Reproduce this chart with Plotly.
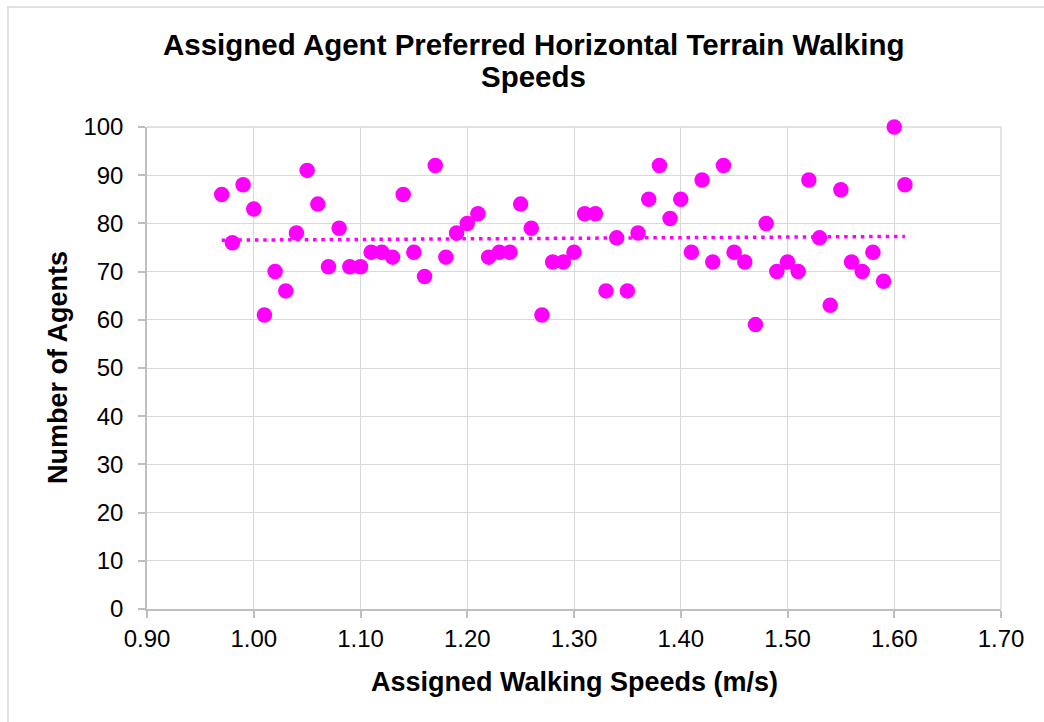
import numpy as np
import plotly.graph_objects as go

# Assigned preferred walking speeds (m/s) and how many agents received each
speeds = [0.97, 0.98, 0.99, 1.00, 1.01, 1.02, 1.03, 1.04, 1.05, 1.06,
          1.07, 1.08, 1.09, 1.10, 1.11, 1.12, 1.13, 1.14, 1.15, 1.16,
          1.17, 1.18, 1.19, 1.20, 1.21, 1.22, 1.23, 1.24, 1.25, 1.26,
          1.27, 1.28, 1.29, 1.30, 1.31, 1.32, 1.33, 1.34, 1.35, 1.36,
          1.37, 1.38, 1.39, 1.40, 1.41, 1.42, 1.43, 1.44, 1.45, 1.46,
          1.47, 1.48, 1.49, 1.50, 1.51, 1.52, 1.53, 1.54, 1.55, 1.56,
          1.57, 1.58, 1.59, 1.60, 1.61]
agents = [86, 76, 88, 83, 61, 70, 66, 78, 91, 84,
          71, 79, 71, 71, 74, 74, 73, 86, 74, 69,
          92, 73, 78, 80, 82, 73, 74, 74, 84, 79,
          61, 72, 72, 74, 82, 82, 66, 77, 66, 78,
          85, 92, 81, 85, 74, 89, 72, 92, 74, 72,
          59, 80, 70, 72, 70, 89, 77, 63, 87, 72,
          70, 74, 68, 100, 88]

x_ticks = [0.90, 1.00, 1.10, 1.20, 1.30, 1.40, 1.50, 1.60, 1.70]
y_ticks = [0, 10, 20, 30, 40, 50, 60, 70, 80, 90, 100]

MAGENTA = "#FF00FF"
GRID = "#D9D9D9"
AXIS = "#BFBFBF"
FONT = "Liberation Sans, Arial, sans-serif"

# Linear trendline through the points
xs = np.array(speeds)
slope, intercept = np.polyfit(xs, np.array(agents, dtype=float), 1)
trend_x = [xs.min(), xs.max()]
trend_y = [slope * v + intercept for v in trend_x]

fig = go.Figure()
fig.add_trace(go.Scatter(
    x=trend_x, y=trend_y, mode="lines",
    line=dict(color=MAGENTA, width=3.5, dash="3.5px,4.8px"),
    hoverinfo="skip", showlegend=False,
))
fig.add_trace(go.Scatter(
    x=speeds, y=agents, mode="markers", cliponaxis=False,
    marker=dict(color=MAGENTA, size=15.5, line=dict(width=0)),
    showlegend=False,
))

fig.update_layout(
    width=1044, height=722,
    margin=dict(l=147, r=43, t=127, b=113),
    paper_bgcolor="white", plot_bgcolor="white",
    font=dict(family=FONT, color="black"),
    showlegend=False,
    xaxis=dict(
        range=[0.90, 1.70], tickvals=x_ticks,
        ticktext=[f"{v:.2f}" for v in x_ticks],
        tickfont=dict(size=24), showgrid=True, gridcolor=GRID, gridwidth=1.4,
        showline=True, linecolor=AXIS, linewidth=1.5,
        ticks="outside", ticklen=7, tickcolor=AXIS, tickwidth=1.5,
        zeroline=False, fixedrange=True,
    ),
    yaxis=dict(
        range=[0, 100], tickvals=y_ticks,
        tickfont=dict(size=24), showgrid=True, gridcolor=GRID, gridwidth=1.4,
        showline=True, linecolor=AXIS, linewidth=1.5,
        ticks="outside", ticklen=7, tickcolor=AXIS, tickwidth=1.5,
        ticklabelstandoff=10,
        zeroline=False, fixedrange=True,
    ),
    shapes=[
        # top and right grid edges of the plot area
        dict(type="line", xref="paper", yref="paper", x0=0, x1=1, y0=1, y1=1,
             line=dict(color=GRID, width=1.4), layer="below"),
        dict(type="line", xref="paper", yref="paper", x0=1, x1=1, y0=0, y1=1,
             line=dict(color=GRID, width=1.4), layer="below"),
        # chart frame
        dict(type="rect", xref="paper", yref="paper",
             x0=-0.1628, x1=1.06, y0=-0.25, y1=1.249,
             line=dict(color=GRID, width=1.5), fillcolor="rgba(0,0,0,0)",
             layer="below"),
    ],
    annotations=[
        dict(text="<b>Assigned Agent Preferred Horizontal Terrain Walking</b>",
             xref="paper", yref="paper", x=(533 - 147) / 854, y=(609 - 45) / 482,
             xanchor="center", yanchor="middle", showarrow=False,
             font=dict(size=29.5, family=FONT)),
        dict(text="<b>Speeds</b>",
             xref="paper", yref="paper", x=(533 - 147) / 854, y=(609 - 77) / 482,
             xanchor="center", yanchor="middle", showarrow=False,
             font=dict(size=29.5, family=FONT)),
        dict(text="<b>Assigned Walking Speeds (m/s)</b>",
             xref="paper", yref="paper", x=0.5, y=(609 - 682) / 482,
             xanchor="center", yanchor="middle", showarrow=False,
             font=dict(size=27, family=FONT)),
        dict(text="<b>Number of Agents</b>",
             xref="paper", yref="paper", x=(58 - 147) / 854, y=0.5,
             xanchor="center", yanchor="middle", textangle=-90,
             showarrow=False, font=dict(size=27, family=FONT)),
    ],
)

fig.write_html("out.html")
